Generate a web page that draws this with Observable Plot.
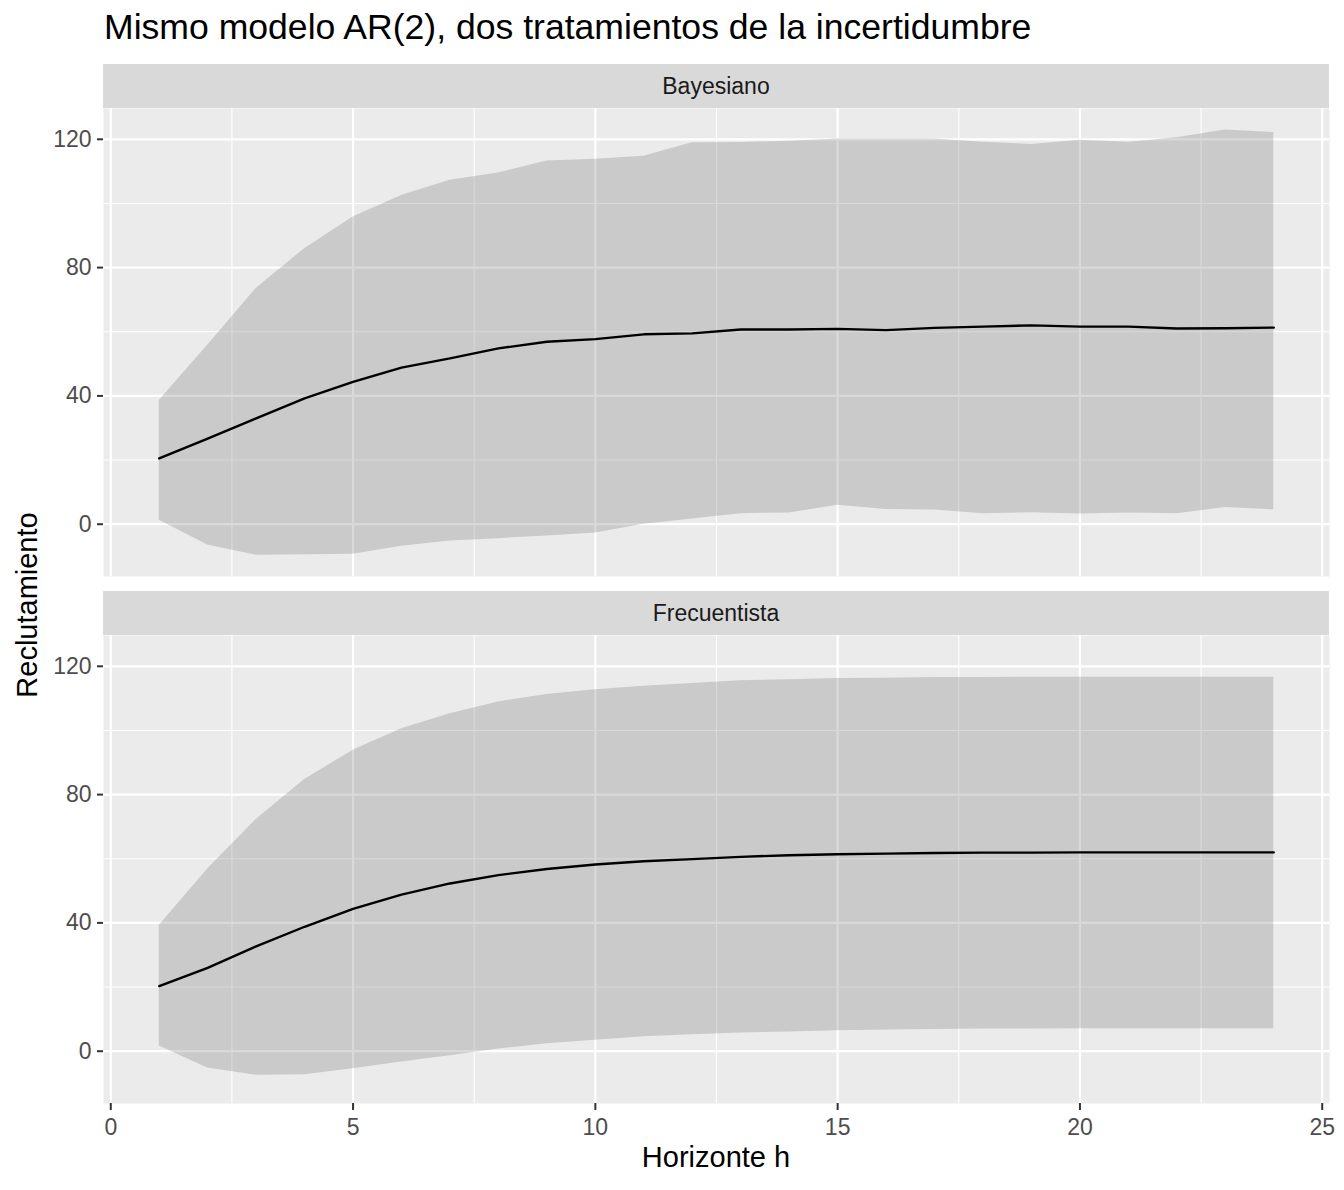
<!DOCTYPE html>
<html>
<head>
<meta charset="utf-8">
<script src="https://cdn.jsdelivr.net/npm/d3@7"></script>
<script src="https://cdn.jsdelivr.net/npm/@observablehq/plot@0.6"></script>
<style>
  html, body { margin: 0; padding: 0; background: #ffffff; }
  body { width: 1344px; height: 1190px; position: relative; overflow: hidden;
         font-family: "Liberation Sans", Arial, Helvetica, sans-serif; }
  .abs { position: absolute; }
  .title { left: 104px; top: 10px; font-size: 35.6px; line-height: 1; color: #000; white-space: nowrap; }
  .strip { left: 103px; width: 1226px; height: 44px; background: #D9D9D9; color: #1A1A1A;
           font-size: 23px; line-height: 44px; text-align: center; }
  .xlab { left: 716px; top: 1143px; transform: translateX(-50%); font-size: 29px; line-height: 1; color: #000; white-space: nowrap; }
  .ylab { left: 27px; top: 605px; transform: translate(-50%, -50%) rotate(-90deg); font-size: 29px; line-height: 1; color: #000; white-space: nowrap; }
</style>
</head>
<body>
<div id="root"></div>
<script>
// ---- data ----
const horizon = [1,2,3,4,5,6,7,8,9,10,11,12,13,14,15,16,17,18,19,20,21,22,23,24];

const bayesMedian = [20.5, 26.7, 33.0, 39.2, 44.4, 48.8, 51.7, 54.8, 56.9, 57.7, 59.2, 59.5,
                     60.7, 60.7, 60.9, 60.5, 61.2, 61.6, 62.0, 61.6, 61.6, 61.0, 61.1, 61.3];
const bayesLower  = [1.2, -6.5, -9.7, -9.5, -9.4, -6.9, -5.2, -4.5, -3.7, -2.7, 0.0, 1.6,
                     3.3, 3.5, 5.9, 4.6, 4.4, 3.3, 3.6, 3.2, 3.5, 3.3, 5.2, 4.5];
const bayesUpper  = [38.6, 55.8, 73.5, 85.9, 95.8, 102.5, 107.2, 109.5, 113.2, 113.8, 114.7, 118.9,
                     119.0, 119.4, 120.1, 120.1, 120.1, 119.1, 118.4, 119.7, 119.1, 120.5, 122.9, 122.1];

const freqMedian = [20.3, 26.0, 32.7, 38.8, 44.4, 48.8, 52.3, 54.9, 56.8, 58.2, 59.2, 59.9,
                    60.6, 61.1, 61.4, 61.6, 61.8, 61.9, 61.9, 62.0, 62.0, 62.0, 62.0, 62.0];
const freqLower  = [1.6, -5.2, -7.5, -7.3, -5.5, -3.4, -1.4, 0.7, 2.3, 3.4, 4.5, 5.1,
                    5.7, 6.0, 6.4, 6.6, 6.8, 6.9, 6.9, 7.0, 7.0, 7.0, 7.0, 7.0];
const freqUpper  = [39.2, 56.8, 72.2, 84.7, 93.8, 100.5, 105.2, 108.9, 111.2, 112.7, 113.8, 114.6,
                    115.5, 115.8, 116.2, 116.3, 116.5, 116.5, 116.6, 116.6, 116.6, 116.6, 116.6, 116.6];

const facetNames = ["Bayesiano", "Frecuentista"];
const xTicks = [0, 5, 10, 15, 20, 25];
const xMinor = [2.5, 7.5, 12.5, 17.5, 22.5];
const yTicks = [0, 40, 80, 120];
const yMinor = [20, 60, 100];
const titleText = "Mismo modelo AR(2), dos tratamientos de la incertidumbre";
const xLabel = "Horizonte h";
const yLabel = "Reclutamiento";

// ---- layout ----
const root = document.getElementById("root");
function addDiv(cls, text, style) {
  const d = document.createElement("div");
  d.className = "abs " + cls;
  d.textContent = text;
  Object.assign(d.style, style || {});
  root.appendChild(d);
  return d;
}

const FONT = '"Liberation Sans", Arial, Helvetica, sans-serif';
const PANEL_H = 468;

function panel(med, lo, hi, showX) {
  const data = horizon.map((h, i) => ({h, med: med[i], lo: lo[i], hi: hi[i]}));
  const marginBottom = showX ? 40 : 0;
  const marks = [
    Plot.frame({fill: "#EBEBEB", stroke: null}),
    Plot.ruleY(yMinor, {stroke: "#FFFFFF", strokeWidth: 1.1}),
    Plot.ruleX(xMinor, {stroke: "#FFFFFF", strokeWidth: 1.1}),
    Plot.ruleY(yTicks, {stroke: "#FFFFFF", strokeWidth: 2.2}),
    Plot.ruleX(xTicks, {stroke: "#FFFFFF", strokeWidth: 2.2}),
    Plot.areaY(data, {x: "h", y1: "lo", y2: "hi", fill: "#666666", fillOpacity: 0.25}),
    Plot.line(data, {x: "h", y: "med", stroke: "#000000", strokeWidth: 2.4}),
    Plot.axisY(yTicks, {label: null, tickSize: 6, tickPadding: 6, fontSize: 23,
                        stroke: "#333333", strokeWidth: 2, fill: "#4D4D4D"})
  ];
  if (showX) {
    marks.push(Plot.axisX(xTicks, {label: null, tickSize: 7, tickPadding: 8, fontSize: 23,
                                   stroke: "#333333", strokeWidth: 2, fill: "#4D4D4D"}));
  }
  return Plot.plot({
    width: 1344,
    height: PANEL_H + marginBottom,
    marginLeft: 103,
    marginRight: 15,
    marginTop: 0,
    marginBottom,
    style: {fontFamily: FONT, fontSize: "23px", background: "transparent", overflow: "visible"},
    x: {domain: [-0.15, 25.15], axis: showX ? undefined : null},
    y: {domain: [-16.3, 129.6]},
    marks
  });
}

addDiv("title", titleText);

// top facet
addDiv("strip", facetNames[0], {top: "64px"});
const p1 = panel(bayesMedian, bayesLower, bayesUpper, false);
p1.classList.add("abs");
Object.assign(p1.style, {left: "0px", top: "108px"});
root.appendChild(p1);

// bottom facet
addDiv("strip", facetNames[1], {top: "591px"});
const p2 = panel(freqMedian, freqLower, freqUpper, true);
p2.classList.add("abs");
Object.assign(p2.style, {left: "0px", top: "635px"});
root.appendChild(p2);

addDiv("xlab", xLabel);
addDiv("ylab", yLabel);
</script>
</body>
</html>
